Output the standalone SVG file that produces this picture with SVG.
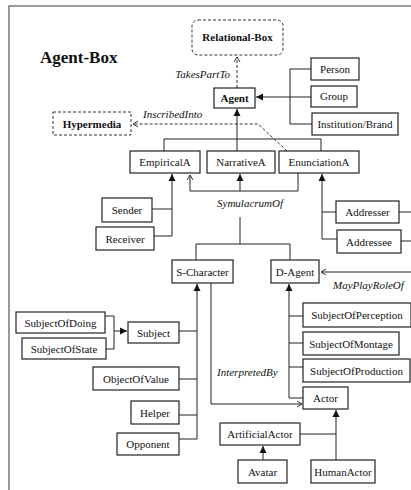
<svg xmlns="http://www.w3.org/2000/svg" width="411" height="490" viewBox="0 0 411 490">
  <style>
    .box { fill: #fff; stroke: #222; stroke-width: 1.2; }
    .dbox { fill: #fff; stroke: #333; stroke-width: 1; stroke-dasharray: 3 2; }
    .lbl { font-family: "Liberation Serif", "Times New Roman", serif; font-size: 11px; fill: #111; text-anchor: middle; }
    .bold { font-weight: bold; }
    .rel { font-family: "Liberation Serif", "Times New Roman", serif; font-size: 11px; font-style: italic; fill: #111; }
    .ln { fill: none; stroke: #222; stroke-width: 1; }
    .dl { fill: none; stroke: #333; stroke-width: 1; stroke-dasharray: 3 2; }
    .frame { fill: none; stroke: #777; stroke-width: 1.5; }
  </style>
  <defs>
    <marker id="solid" markerWidth="8" markerHeight="8" refX="7" refY="4" orient="auto" markerUnits="userSpaceOnUse">
      <path d="M0,0.5 L7,4 L0,7.5 z" fill="#111"/>
    </marker>
    <marker id="open" markerWidth="8" markerHeight="8" refX="5" refY="3" orient="auto" markerUnits="userSpaceOnUse">
      <path d="M0,0 L5,3 L0,6" fill="none" stroke="#333" stroke-width="1"/>
    </marker>
  </defs>

  <rect width="411" height="490" fill="#fff"/>
  <path class="frame" d="M9,490 L9,6 L411,6"/>

  <text x="40" y="63" font-family="Liberation Serif, Times New Roman, serif" font-size="17" font-weight="bold" fill="#111">Agent-Box</text>

  <!-- connectors -->
  <g id="connectors">
    <path class="dl" d="M237,88 L237,57" marker-end="url(#open)"/>
    <path class="ln" d="M311,97 L256,97" marker-end="url(#solid)"/>
    <path class="ln" d="M311,69 L290,69 L290,124 L312,124"/>
    <path class="ln" d="M237,151 L237,109" marker-end="url(#solid)"/>
    <path class="ln" d="M164,151 L164,139 L321,139 L321,151"/>
    <path class="dl" d="M287,151 L258,124 L133,124" marker-end="url(#open)"/>
    <path class="ln" d="M152,209 L172,209 M154,236 L172,236"/>
    <path class="ln" d="M172,236 L172,174" marker-end="url(#solid)"/>
    <path class="ln" d="M298,173 L298,191 L190,191 L190,175" marker-end="url(#open)"/>
    <path class="ln" d="M240,191 L240,174" marker-end="url(#solid)"/>
    <path class="ln" d="M240,217 L240,244 M196,260 L196,244 L290,244 L290,260"/>
    <path class="ln" d="M336,212 L322,212 M337,239 L322,239"/>
    <path class="ln" d="M322,239 L322,174" marker-end="url(#solid)"/>
    <path class="ln" d="M399,212 L411,212 M401,241 L411,241"/>
    <path class="ln" d="M411,272 L321,272" marker-end="url(#open)"/>
    <path class="ln" d="M179,331 L197,331 M179,379 L197,379 M179,415 L197,415 M179,439 L197,439"/>
    <path class="ln" d="M197,439 L197,284" marker-end="url(#solid)"/>
    <path class="ln" d="M105,316 L114,316 L114,349 L106,349"/>
    <path class="ln" d="M114,331 L127,331" marker-end="url(#solid)"/>
    <path class="ln" d="M211,283 L211,404 L302,404" marker-end="url(#open)"/>
    <path class="ln" d="M289,316 L303,316 M289,343 L303,343 M289,367 L303,367 M289,398 L303,398"/>
    <path class="ln" d="M289,398 L289,284" marker-end="url(#solid)"/>
    <path class="ln" d="M300,434 L336,434"/>
    <path class="ln" d="M336,460 L336,410" marker-end="url(#solid)"/>
    <path class="ln" d="M263,460 L263,446" marker-end="url(#solid)"/>

    <text class="rel" x="230" y="78" text-anchor="end">TakesPartTo</text>
    <text class="rel" x="143" y="118">InscribedInto</text>
    <text class="rel" x="217" y="207">SymulacrumOf</text>
    <text class="rel" x="333" y="289">MayPlayRoleOf</text>
    <text class="rel" x="217" y="376">InterpretedBy</text>
  </g>

  <!-- nodes -->
  <g id="relational-box"><rect class="dbox" x="192" y="20" width="91" height="35" rx="6"/><text class="lbl bold" x="237.5" y="41">Relational-Box</text></g>
  <g id="agent"><rect class="box" x="214" y="88" width="41" height="20"/><text class="lbl bold" x="234.5" y="102">Agent</text></g>
  <g id="person"><rect class="box" x="311" y="58" width="48" height="22"/><text class="lbl" x="335" y="73">Person</text></g>
  <g id="group"><rect class="box" x="311" y="86" width="46" height="21"/><text class="lbl" x="334" y="100">Group</text></g>
  <g id="institution"><rect class="box" x="312" y="113" width="86" height="22"/><text class="lbl" x="355" y="128">Institution/Brand</text></g>
  <g id="hypermedia"><rect class="dbox" x="53" y="112" width="78" height="23"/><text class="lbl bold" x="92" y="127.5">Hypermedia</text></g>
  <g id="empirical"><rect class="box" x="130" y="151" width="70" height="22"/><text class="lbl" x="165" y="166">EmpiricalA</text></g>
  <g id="narrative"><rect class="box" x="207" y="151" width="68" height="22"/><text class="lbl" x="241" y="166">NarrativeA</text></g>
  <g id="enunciation"><rect class="box" x="279" y="151" width="80" height="22"/><text class="lbl" x="319" y="166">EnunciationA</text></g>
  <g id="sender"><rect class="box" x="102" y="198" width="50" height="24"/><text class="lbl" x="127" y="214">Sender</text></g>
  <g id="receiver"><rect class="box" x="96" y="227" width="58" height="23"/><text class="lbl" x="125" y="242.5">Receiver</text></g>
  <g id="addresser"><rect class="box" x="336" y="201" width="63" height="22"/><text class="lbl" x="367.5" y="216">Addresser</text></g>
  <g id="addressee"><rect class="box" x="337" y="230" width="64" height="23"/><text class="lbl" x="369" y="245.5">Addressee</text></g>
  <g id="s-character"><rect class="box" x="172" y="260" width="61" height="23"/><text class="lbl" x="202.5" y="275.5">S-Character</text></g>
  <g id="d-agent"><rect class="box" x="271" y="260" width="48" height="23"/><text class="lbl" x="295" y="275.5">D-Agent</text></g>
  <g id="subject-of-doing"><rect class="box" x="16" y="312" width="89" height="21"/><text class="lbl" x="60.5" y="326.5">SubjectOfDoing</text></g>
  <g id="subject-of-state"><rect class="box" x="22" y="338" width="84" height="21"/><text class="lbl" x="64" y="352.5">SubjectOfState</text></g>
  <g id="subject"><rect class="box" x="128" y="322" width="51" height="21"/><text class="lbl" x="153.5" y="336.5">Subject</text></g>
  <g id="object-of-value"><rect class="box" x="93" y="367" width="86" height="23"/><text class="lbl" x="136" y="382.5">ObjectOfValue</text></g>
  <g id="helper"><rect class="box" x="131" y="401" width="48" height="23"/><text class="lbl" x="155" y="416.5">Helper</text></g>
  <g id="opponent"><rect class="box" x="117" y="433" width="62" height="22"/><text class="lbl" x="148" y="448">Opponent</text></g>
  <g id="subject-of-perception"><rect class="box" x="303" y="303" width="108" height="24"/><text class="lbl" x="357" y="319">SubjectOfPerception</text></g>
  <g id="subject-of-montage"><rect class="box" x="303" y="332" width="96" height="23"/><text class="lbl" x="351" y="347.5">SubjectOfMontage</text></g>
  <g id="subject-of-production"><rect class="box" x="303" y="359" width="107" height="23"/><text class="lbl" x="356.5" y="374.5">SubjectOfProduction</text></g>
  <g id="actor"><rect class="box" x="303" y="387" width="45" height="22"/><text class="lbl" x="325.5" y="402">Actor</text></g>
  <g id="artificial-actor"><rect class="box" x="220" y="423" width="80" height="22"/><text class="lbl" x="260" y="438">ArtificialActor</text></g>
  <g id="avatar"><rect class="box" x="238" y="460" width="49" height="23"/><text class="lbl" x="262.5" y="475.5">Avatar</text></g>
  <g id="human-actor"><rect class="box" x="311" y="460" width="64" height="23"/><text class="lbl" x="343" y="475.5">HumanActor</text></g>
</svg>
